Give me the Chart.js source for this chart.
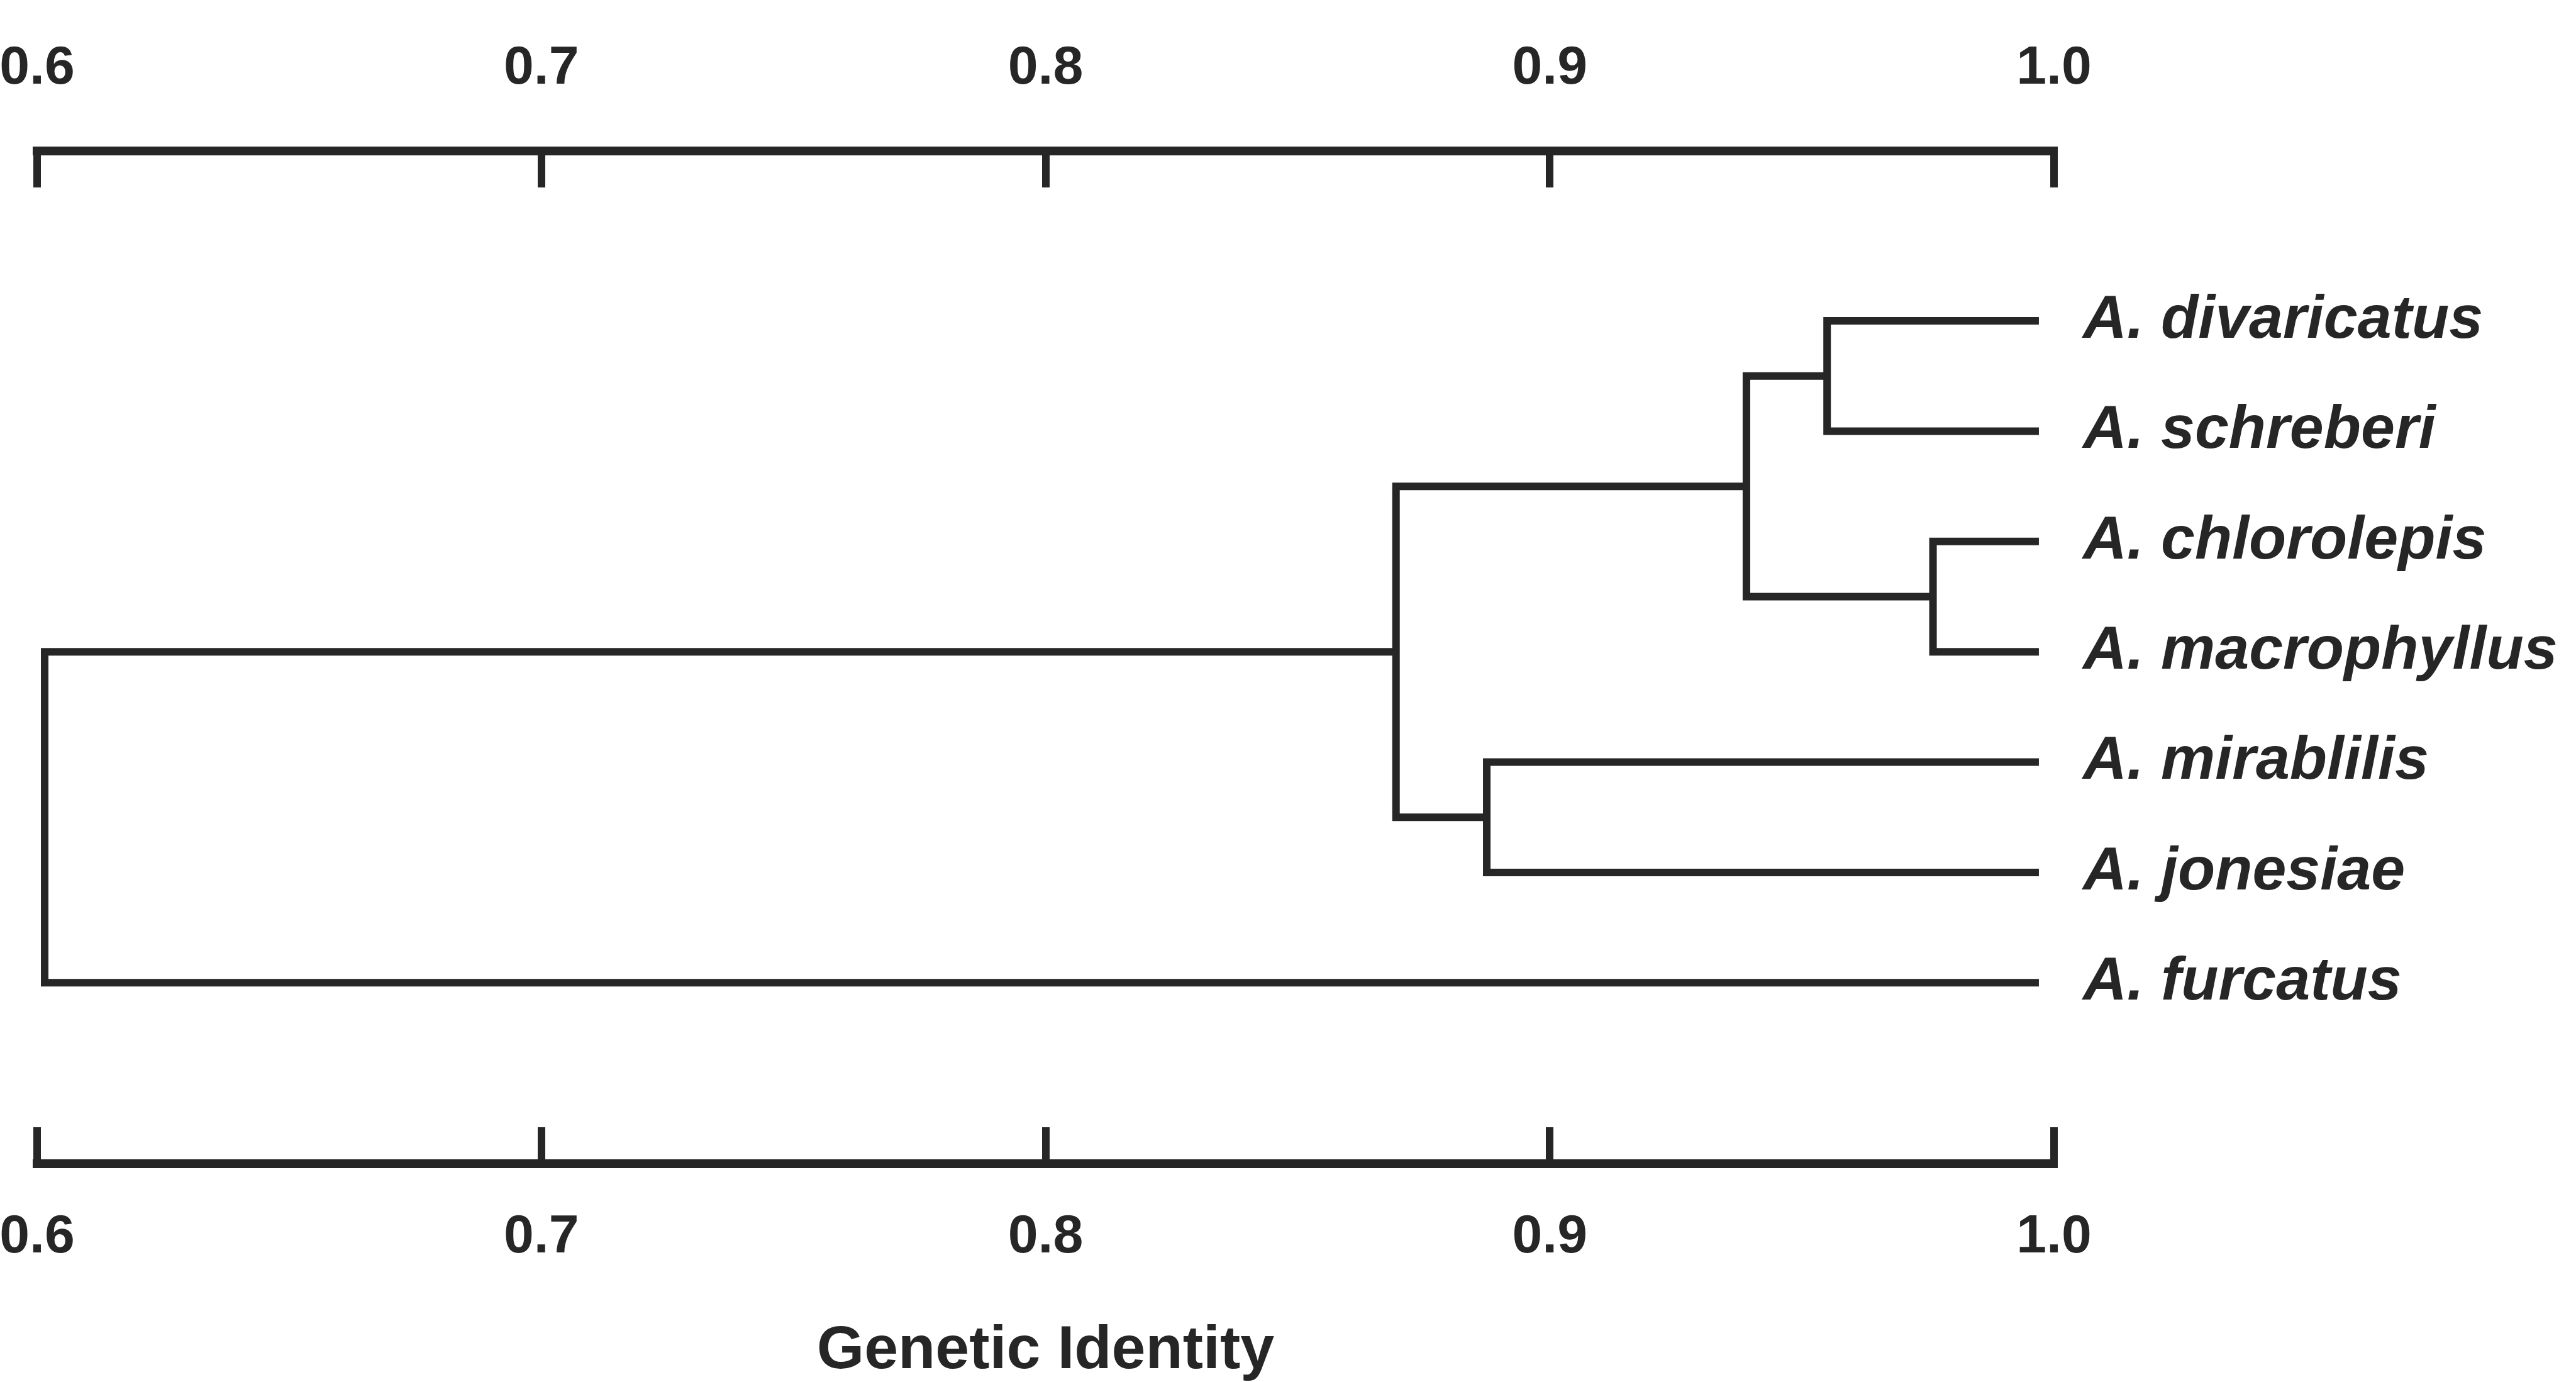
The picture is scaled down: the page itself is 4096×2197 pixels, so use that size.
<!DOCTYPE html>
<html>
<head>
<meta charset="utf-8">
<title>Genetic Identity</title>
<script src="https://cdn.jsdelivr.net/npm/chart.js@4.4.1/dist/chart.umd.min.js"></script>
<style>
  html, body { margin: 0; padding: 0; background: #fff; }
  canvas { display: block; }
</style>
</head>
<body>
<canvas id="dendrogram" width="4096" height="2197"></canvas>
<script>
'use strict';

// leaves, top to bottom
const species = ['A. divaricatus', 'A. schreberi', 'A. chlorolepis', 'A. macrophyllus',
                 'A. mirablilis', 'A. jonesiae', 'A. furcatus'];

// each join links two clusters (0-6 are leaves, 7+ are earlier joins)
// at the genetic identity where they meet
const joinLeft = [2, 0, 8, 4, 9, 11];
const joinRight = [3, 1, 7, 5, 10, 6];
const joinIdentity = [0.976, 0.955, 0.939, 0.8875, 0.8695, 0.6015];

// where the leaf branches stop
const leafIdentity = 0.997;

const identityTicks = [0.6, 0.7, 0.8, 0.9, 1.0];

const ink = '#262626';
const family = '"Liberation Sans", Arial, Helvetica, sans-serif';

/**
 * Turn the joins into bracket polylines: child -> node -> node -> child
 */
function buildBranches() {
    const nodeX = species.map(() => leafIdentity);
    const nodeY = species.map((s, i) => i);
    const branches = [];
    joinIdentity.forEach((v, k) => {
        const a = joinLeft[k];
        const b = joinRight[k];
        branches.push([
            {x: nodeX[a], y: nodeY[a]},
            {x: v, y: nodeY[a]},
            {x: v, y: nodeY[b]},
            {x: nodeX[b], y: nodeY[b]}
        ]);
        nodeX.push(v);
        nodeY.push((nodeY[a] + nodeY[b]) / 2);
    });
    return branches;
}

// shared settings of the two identity axes
function identityAxis(position, height, padding) {
    return {
        type: 'linear',
        position: position,
        min: 0.6,
        max: 1.0,
        afterBuildTicks: (scale) => { scale.ticks = identityTicks.map(v => ({value: v})); },
        afterFit: (scale) => {
            scale.height = height;
            // the big label padding would otherwise push the plot inwards
            scale.paddingLeft = 0;
            scale.paddingRight = 0;
        },
        grid: {
            drawOnChartArea: false,
            drawTicks: true,
            tickLength: -58,   // ticks point into the plot
            color: ink,
            lineWidth: 12
        },
        border: {display: true, color: ink, width: 14},
        ticks: {
            color: ink,
            padding: padding,
            maxRotation: 0,
            autoSkip: false,
            font: {family: family, size: 86, weight: 'bold', lineHeight: 1},
            callback: (v) => Number(v).toFixed(1)
        }
    };
}

const bottomAxis = identityAxis('bottom', 347, 132);
bottomAxis.title = {
    display: true,
    text: 'Genetic Identity',
    color: ink,
    font: {family: family, size: 97, weight: 'bold', lineHeight: 1},
    padding: {top: 0, bottom: 0}
};

const topAxis = identityAxis('top', 240, 146);

new Chart('dendrogram', {
    type: 'scatter',
    data: {
        datasets: buildBranches().map(pts => ({
            data: pts,
            showLine: true,
            fill: false,
            tension: 0,
            borderColor: ink,
            borderWidth: 12,
            borderJoinStyle: 'miter',
            pointRadius: 0,
            pointHoverRadius: 0
        }))
    },
    options: {
        responsive: false,
        animation: false,
        events: [],
        layout: {padding: {left: 59, top: 0, right: 0, bottom: 0}},
        plugins: {
            legend: {display: false},
            tooltip: {enabled: false}
        },
        scales: {
            x: bottomAxis,
            x2: topAxis,
            y: {
                type: 'linear',
                position: 'right',
                reverse: true,
                min: -1.54,
                max: 7.64,
                afterBuildTicks: (scale) => { scale.ticks = species.map((s, i) => ({value: i})); },
                afterFit: (scale) => { scale.width = 830; },
                grid: {display: false, drawTicks: false},
                border: {display: false},
                ticks: {
                    color: ink,
                    padding: 46,
                    autoSkip: false,
                    font: {family: family, size: 97, style: 'italic', weight: 'bold', lineHeight: 1},
                    callback: (v) => species[v]
                }
            }
        }
    }
});
</script>
</body>
</html>
